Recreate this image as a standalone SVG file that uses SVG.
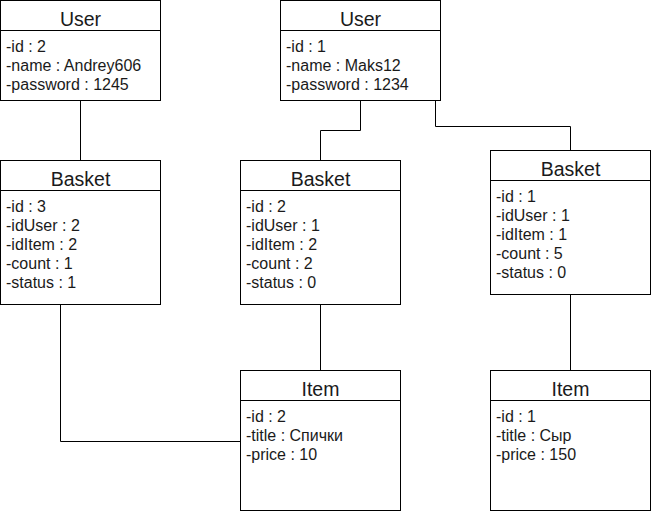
<svg xmlns="http://www.w3.org/2000/svg" width="651" height="511" viewBox="0 0 651 511">
<style>
.box{fill:#fff;stroke:#000;stroke-width:1}
.div{stroke:#000;stroke-width:1}
.t{font-family:"Liberation Sans",Arial,sans-serif;font-size:19.5px;fill:#1a1a1a;text-anchor:middle}
.a{font-family:"Liberation Sans",Arial,sans-serif;font-size:16px;fill:#1a1a1a}
.c{fill:none;stroke:#000;stroke-width:1}
</style>
<rect width="651" height="511" fill="#fff"/>
<g id="connectors">
<path class="c" d="M80.5 100.5V160.5"/>
<path class="c" d="M360.5 100.5V130.5H320.5V160.5"/>
<path class="c" d="M435.5 100.5V126.5H570.5V150.5"/>
<path class="c" d="M320.5 304.5V370.5"/>
<path class="c" d="M570.5 294.5V370.5"/>
<path class="c" d="M60.5 304.5V441.5H240.5"/>
</g>
<g id="user2">
<rect class="box" x="0.5" y="0.5" width="160" height="100"/>
<line class="div" x1="0.5" y1="30.5" x2="160.5" y2="30.5"/>
<text class="t" x="80.5" y="26">User</text>
<text class="a" x="6" y="52">-id : 2</text>
<text class="a" x="6" y="71">-name : Andrey606</text>
<text class="a" x="6" y="90">-password : 1245</text>
</g>
<g id="user1">
<rect class="box" x="280.5" y="0.5" width="160" height="100"/>
<line class="div" x1="280.5" y1="30.5" x2="440.5" y2="30.5"/>
<text class="t" x="360.5" y="26">User</text>
<text class="a" x="286" y="52">-id : 1</text>
<text class="a" x="286" y="71">-name : Maks12</text>
<text class="a" x="286" y="90">-password : 1234</text>
</g>
<g id="basket3">
<rect class="box" x="0.5" y="160.5" width="160" height="144"/>
<line class="div" x1="0.5" y1="190.5" x2="160.5" y2="190.5"/>
<text class="t" x="80.5" y="186">Basket</text>
<text class="a" x="6" y="212">-id : 3</text>
<text class="a" x="6" y="231">-idUser : 2</text>
<text class="a" x="6" y="250">-idItem : 2</text>
<text class="a" x="6" y="269">-count : 1</text>
<text class="a" x="6" y="288">-status : 1</text>
</g>
<g id="basket2">
<rect class="box" x="240.5" y="160.5" width="160" height="144"/>
<line class="div" x1="240.5" y1="190.5" x2="400.5" y2="190.5"/>
<text class="t" x="320.5" y="186">Basket</text>
<text class="a" x="246" y="212">-id : 2</text>
<text class="a" x="246" y="231">-idUser : 1</text>
<text class="a" x="246" y="250">-idItem : 2</text>
<text class="a" x="246" y="269">-count : 2</text>
<text class="a" x="246" y="288">-status : 0</text>
</g>
<g id="basket1">
<rect class="box" x="490.5" y="150.5" width="160" height="144"/>
<line class="div" x1="490.5" y1="180.5" x2="650.5" y2="180.5"/>
<text class="t" x="570.5" y="176">Basket</text>
<text class="a" x="496" y="202">-id : 1</text>
<text class="a" x="496" y="221">-idUser : 1</text>
<text class="a" x="496" y="240">-idItem : 1</text>
<text class="a" x="496" y="259">-count : 5</text>
<text class="a" x="496" y="278">-status : 0</text>
</g>
<g id="item2">
<rect class="box" x="240.5" y="370.5" width="160" height="140"/>
<line class="div" x1="240.5" y1="400.5" x2="400.5" y2="400.5"/>
<text class="t" x="320.5" y="396">Item</text>
<text class="a" x="246" y="422">-id : 2</text>
<text class="a" x="246" y="441">-title : Спички</text>
<text class="a" x="246" y="460">-price : 10</text>
</g>
<g id="item1">
<rect class="box" x="490.5" y="370.5" width="160" height="140"/>
<line class="div" x1="490.5" y1="400.5" x2="650.5" y2="400.5"/>
<text class="t" x="570.5" y="396">Item</text>
<text class="a" x="496" y="422">-id : 1</text>
<text class="a" x="496" y="441">-title : Сыр</text>
<text class="a" x="496" y="460">-price : 150</text>
</g>
</svg>
